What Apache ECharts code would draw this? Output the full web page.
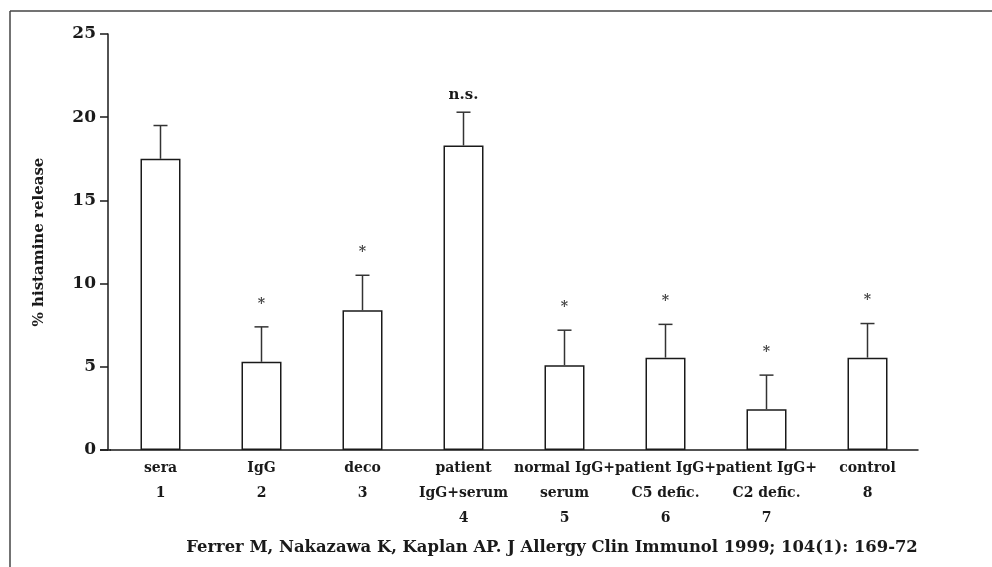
<!DOCTYPE html>
<html>
<head>
<meta charset="utf-8">
<script src="https://cdn.jsdelivr.net/npm/echarts@6/dist/echarts.min.js"></script>
<style>
html,body{margin:0;padding:0;background:#fff;}
#chart{width:992px;height:567px;}
</style>
</head>
<body>
<div id="chart"></div>
<script>
const categoryLabels = ['sera', 'IgG', 'deco', 'patient\nIgG+serum', 'normal IgG+\nserum', 'patient IgG+\nC5 defic.', 'patient IgG+\nC2 defic.', 'control'];
const categoryNumbers = ['1', '2', '3', '4', '5', '6', '7', '8'];
const meanValues = [17.5, 5.3, 8.4, 18.3, 5.1, 5.55, 2.45, 5.55];
const errorUpper = [19.5, 7.4, 10.5, 20.3, 7.2, 7.55, 4.5, 7.6];
const annotations = ['', '*', '*', 'n.s.', '*', '*', '*', '*'];
const yMin = 0, yMax = 25, yInterval = 5;
const yAxisTitle = '% histamine release';
const citation = 'Ferrer M, Nakazawa K, Kaplan AP. J Allergy Clin Immunol 1999; 104(1): 169-72';

const FONT = 'DejaVu Serif';
const INK = '#1a1a1a';

const chart = echarts.init(document.getElementById('chart'));
const xLabels = categoryLabels.map((c, i) => c + '\n' + categoryNumbers[i]);

chart.setOption({
  animation: false,
  backgroundColor: '#fff',
  grid: { left: 110, right: 74, top: 34, bottom: 117, containLabel: false },
  xAxis: {
    type: 'category',
    data: xLabels,
    axisLine: { show: true, lineStyle: { color: INK, width: 1.5 } },
    axisTick: { show: false },
    axisLabel: {
      color: INK, fontFamily: FONT, fontWeight: 'bold', fontSize: 14,
      lineHeight: 25, margin: 6, interval: 0
    }
  },
  yAxis: {
    type: 'value',
    min: yMin, max: yMax, interval: yInterval,
    offset: 2,
    name: yAxisTitle,
    nameLocation: 'middle',
    nameRotate: 90,
    nameGap: 61,
    nameTextStyle: { color: INK, fontFamily: FONT, fontWeight: 'bold', fontSize: 15 },
    axisLine: { show: true, lineStyle: { color: INK, width: 1.5 } },
    axisTick: { show: true, inside: false, length: 8, lineStyle: { color: INK, width: 1.5 } },
    axisLabel: { color: INK, fontFamily: FONT, fontWeight: 'bold', fontSize: 17, margin: 12 },
    splitLine: { show: false }
  },
  series: [
    {
      type: 'bar',
      data: meanValues,
      barWidth: 40,
      itemStyle: { color: '#fff', borderColor: INK, borderWidth: 1.5 },
      z: 2
    },
    {
      type: 'custom',
      data: meanValues.map((v, i) => [i, v, errorUpper[i]]),
      z: 3,
      renderItem: function (params, api) {
        const i = api.value(0);
        const base = api.coord([i, api.value(1)]);
        const top = api.coord([i, api.value(2)]);
        const cap = 7;
        const ann = annotations[i];
        const children = [
          { type: 'line', shape: { x1: base[0], y1: base[1], x2: top[0], y2: top[1] }, style: { stroke: '#333', lineWidth: 1.5 } },
          { type: 'line', shape: { x1: top[0] - cap, y1: top[1], x2: top[0] + cap, y2: top[1] }, style: { stroke: '#333', lineWidth: 1.5 } }
        ];
        if (ann) {
          const isStar = ann === '*';
          children.push({
            type: 'text',
            x: top[0], y: isStar ? top[1] - 23 : top[1] - 17,
            style: {
              text: ann,
              fill: isStar ? '#444' : INK,
              font: (isStar ? 'bold 14px ' : 'bold 15px ') + FONT,
              textAlign: 'center', textVerticalAlign: 'middle'
            }
          });
        }
        return { type: 'group', children: children };
      }
    }
  ],
  graphic: [
    { type: 'line', shape: { x1: 10, y1: 11, x2: 992, y2: 11 }, style: { stroke: '#444', lineWidth: 1.5 } },
    { type: 'line', shape: { x1: 10, y1: 11, x2: 10, y2: 567 }, style: { stroke: '#444', lineWidth: 1.5 } },
    { type: 'line', shape: { x1: 100, y1: 450, x2: 111, y2: 450 }, style: { stroke: INK, lineWidth: 1.5 } },
    { type: 'text', x: 552, y: 548, style: { text: citation, fill: INK, font: 'bold 16.4px ' + FONT, textAlign: 'center', textVerticalAlign: 'middle' } }
  ]
});
</script>
</body>
</html>
